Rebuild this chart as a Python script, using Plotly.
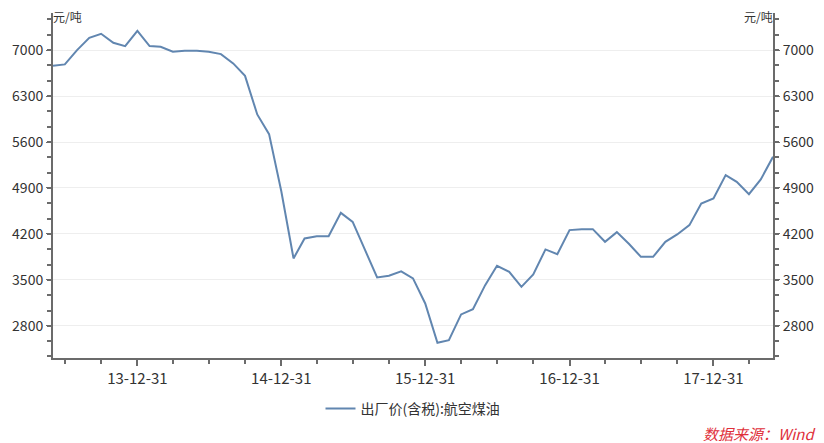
import plotly.graph_objects as go
import pandas as pd

dates = pd.date_range("2013-05-31", "2018-05-31", freq="ME").strftime("%Y-%m-%d").tolist()
values = [
    6761, 6782, 7000, 7187, 7248, 7111, 7061, 7294,          # 2013 May-Dec
    7061, 7050, 6974, 6989, 6989, 6974, 6939, 6797, 6608, 6020, 5720, 4850,  # 2014
    3827, 4131, 4166, 4166, 4521, 4384, 3960, 3537, 3562, 3629, 3522, 3141,  # 2015
    2541, 2582, 2974, 3054, 3420, 3714, 3623, 3394, 3583, 3964, 3892, 4258,  # 2016
    4273, 4273, 4080, 4227, 4046, 3851, 3851, 4080, 4192, 4334, 4664, 4741,  # 2017
    5096, 4994, 4806, 5030, 5374,                                            # 2018 Jan-May
]
series_name = "出厂价(含税):航空煤油"
y_ticks = [2800, 3500, 4200, 4900, 5600, 6300, 7000]
x_ticks = ["2013-12-31", "2014-12-31", "2015-12-31", "2016-12-31", "2017-12-31"]
x_tick_labels = ["13-12-31", "14-12-31", "15-12-31", "16-12-31", "17-12-31"]
unit = "元/吨"
source = "数据来源：Wind"

FONT = "Noto Sans CJK SC"
AX = "#6b6b6b"
yr = [2310, 7565]

fig = go.Figure()
fig.add_trace(go.Scatter(x=dates, y=values, mode="lines", name=series_name,
                         line=dict(color="#6186b0", width=2)))
# invisible trace for right axis
fig.add_trace(go.Scatter(x=dates, y=values, mode="lines", yaxis="y2",
                         line=dict(color="rgba(0,0,0,0)", width=0),
                         showlegend=False, hoverinfo="skip"))

yminor = dict(tick0=2800, dtick=700/3, ticks="outside", ticklen=4, tickwidth=2,
              tickcolor=AX, showgrid=False)

fig.update_layout(
    width=824, height=443,
    margin=dict(l=45, r=59, t=5, b=93),
    paper_bgcolor="white", plot_bgcolor="white",
    font=dict(family=FONT, size=14, color="#333333"),
    showlegend=True,
    legend=dict(orientation="h", x=0.5, xanchor="center", y=-0.101, yanchor="top",
                font=dict(size=14, color="#333333", family=FONT)),
    xaxis=dict(
        type="date", range=["2013-05-31", "2018-05-31"], automargin=False,
        tickmode="array", tickvals=x_ticks, ticktext=x_tick_labels,
        ticks="outside", ticklen=6, tickwidth=2, tickcolor=AX,
        showline=True, linecolor=AX, linewidth=2, showgrid=False, zeroline=False,
        minor=dict(tickmode="array",
                   tickvals=pd.date_range("2013-06-30", "2018-03-31", freq="QE").strftime("%Y-%m-%d").tolist(),
                   ticks="outside", ticklen=4, tickwidth=2, tickcolor=AX, showgrid=False),
        tickfont=dict(size=15, color="#333333"),
    ),
    yaxis=dict(
        range=yr, tickmode="array", tickvals=y_ticks, automargin=False,
        ticks="outside", ticklen=5, tickwidth=1, tickcolor=AX,
        showline=True, linecolor=AX, linewidth=2,
        showgrid=True, gridcolor="#eeeeee", gridwidth=1, zeroline=False,
        minor=yminor,
        tickfont=dict(size=14, color="#333333"),
    ),
    yaxis2=dict(
        range=yr, overlaying="y", side="right", tickmode="array", tickvals=y_ticks,
        automargin=False,
        ticks="outside", ticklen=5, tickwidth=1, tickcolor=AX,
        showline=True, linecolor=AX, linewidth=2, showgrid=False, zeroline=False,
        minor=yminor,
        tickfont=dict(size=14, color="#333333"),
    ),
    annotations=[
        dict(text=unit, xref="paper", yref="paper", x=0, y=1, xanchor="left", yanchor="bottom",
             xshift=-2, yshift=-14, showarrow=False, font=dict(size=12, color="#333333", family=FONT)),
        dict(text=unit, xref="paper", yref="paper", x=1, y=1, xanchor="right", yanchor="bottom",
             xshift=2, yshift=-14, showarrow=False, font=dict(size=12, color="#333333", family=FONT)),
        dict(text="<i>" + source + "</i>", xref="paper", yref="paper", x=1.0, y=0,
             xanchor="right", yanchor="middle", xshift=44, yshift=-75, showarrow=False,
             font=dict(size=15, color="#e0303a", family=FONT)),
    ],
)

fig.write_html("out.html")
